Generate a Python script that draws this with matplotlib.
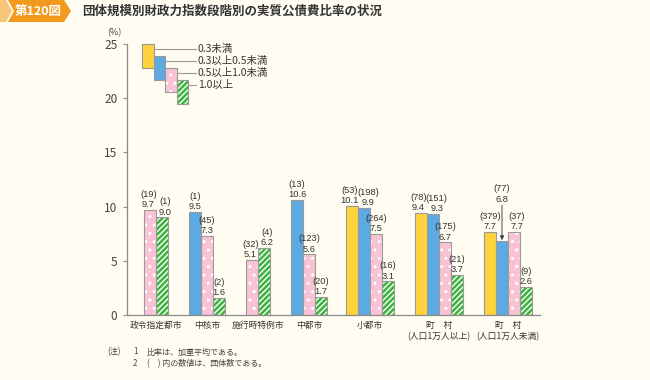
import matplotlib
matplotlib.use("Agg")
import matplotlib.pyplot as plt
from matplotlib.patches import Polygon, Rectangle
import numpy as np

plt.rcParams['font.family'] = ['Noto Sans CJK JP', 'DejaVu Sans']

# ---- data ----
categories = ["政令指定都市", "中核市", "施行時特例市", "中都市", "小都市",
              "町　村\n(人口1万人以上)", "町　村\n(人口1万人未満)"]
series_names = ["0.3未満", "0.3以上0.5未満", "0.5以上1.0未満", "1.0以上"]
v_lt03 = [None, None, None, None, 10.1, 9.4, 7.7]
v_03_05 = [None, 9.5, None, 10.6, 9.9, 9.3, 6.8]
v_05_10 = [9.7, 7.3, 5.1, 5.6, 7.5, 6.7, 7.7]
v_ge10 = [9.0, 1.6, 6.2, 1.7, 3.1, 3.7, 2.6]
n_lt03 = [None, None, None, None, 53, 78, 379]
n_03_05 = [None, 1, None, 13, 198, 151, 77]
n_05_10 = [19, 45, 32, 123, 264, 175, 37]
n_ge10 = [1, 2, 4, 20, 16, 21, 9]
yticks = [0, 5, 10, 15, 20, 25]

values = [v_lt03, v_03_05, v_05_10, v_ge10]
counts = [n_lt03, n_03_05, n_05_10, n_ge10]

# ---- style ----
BG = "#FFFDF1"
face = ["#FFD33D", "#5DA9E2", "#F9C3D5", "#3CB43C"]
hatches = [None, None, "..", "//////"]
EDGE = "#9A9A9A"
TXT = "#333333"
NUMFONT = ['Liberation Sans', 'DejaVu Sans']
NFS = 6.7

W, H = 650, 380
fig = plt.figure(figsize=(6.5, 3.8), dpi=100, facecolor=BG)

def fx(px):
    return px / W
def fy(py):
    return 1 - py / H

ax = fig.add_axes([fx(127), fy(315), fx(540) - fx(127), fy(44) - fy(315)])
ax.set_facecolor(BG)
ax.set_xlim(127, 540)
ax.set_ylim(0, 25)

group_centers = [156, 207, 258, 309, 370, 439, 508]
bw = 12

def draw_bar(x0, h, k, clip=True):
    ax.bar(x0, h, width=bw, align='edge', color=face[k], edgecolor='white' if hatches[k] else face[k],
           hatch=hatches[k], linewidth=0, zorder=2, clip_on=clip)
    ax.bar(x0, h, width=bw, align='edge', fill=False, edgecolor=EDGE, linewidth=0.8, zorder=3, clip_on=clip)

for g, c in enumerate(group_centers):
    present = [k for k in range(4) if values[k][g] is not None]
    start = c - bw * len(present) / 2
    # nudge labels apart when neighbouring bars have similar heights
    nudges = [0.0] * len(present)
    for i in range(1, len(present)):
        if abs(values[present[i]][g] - values[present[i - 1]][g]) < 1.5 and not (g == 6 and present[i] == 1):
            wide = len(str(counts[present[i]][g])) >= 3
            nudges[i - 1] -= 2.6 if wide else 1.8
            nudges[i] += 3.8 if wide else 2.8
    for i, k in enumerate(present):
        x0 = start + i * bw
        v = values[k][g]
        draw_bar(x0, v, k)
        xc = x0 + bw / 2 + nudges[i]
        if g == 6 and k == 1:
            xa = x0 + bw / 2
            ax.text(xa, 11.4, f"({counts[k][g]})", ha='center', va='baseline', fontsize=NFS, color=TXT, family=NUMFONT)
            ax.text(xa, 10.45, f"{v:.1f}", ha='center', va='baseline', fontsize=NFS, color=TXT, family=NUMFONT)
            ax.annotate("", xy=(xa, v + 0.1), xytext=(xa, 10.1),
                        arrowprops=dict(arrowstyle='-|>', color='#444444', lw=0.7,
                                        mutation_scale=6, shrinkA=0, shrinkB=0))
        else:
            ax.text(xc, v + 0.25, f"{v:.1f}", ha='center', va='baseline', fontsize=NFS, color=TXT, family=NUMFONT)
            ax.text(xc, v + 1.2, f"({counts[k][g]})", ha='center', va='baseline', fontsize=NFS, color=TXT, family=NUMFONT)

# axes styling
for s in ['top', 'right']:
    ax.spines[s].set_visible(False)
ax.spines['left'].set_color('#8A8A8A')
ax.spines['bottom'].set_color('#8A8A8A')
ax.spines['left'].set_linewidth(0.9)
ax.spines['bottom'].set_linewidth(0.9)
ax.set_yticks(yticks)
ax.set_yticklabels([str(t) for t in yticks], fontsize=8.5, color='#444444')
ax.tick_params(axis='y', length=3, width=0.8, color='#8A8A8A', pad=4)
ax.set_xticks(group_centers)
ax.set_xticklabels(categories, fontsize=6.3, color=TXT, linespacing=1.3)
ax.tick_params(axis='x', length=0, pad=4)
fig.text(fx(114), fy(33), "(%)", fontsize=6.5, color='#444444', ha='center', va='center')

# legend (staggered bars)
leg_top = [25.0, 23.9, 22.8, 21.7]
leg_len = 2.2
leg_x = [142, 153.5, 165, 176.5]
for k in range(4):
    y0 = leg_top[k] - leg_len
    ax.add_patch(Rectangle((leg_x[k], y0), 11.5, leg_len, facecolor=face[k],
                           edgecolor='white' if hatches[k] else face[k], hatch=hatches[k],
                           linewidth=0, zorder=4, clip_on=False))
    ax.add_patch(Rectangle((leg_x[k], y0), 11.5, leg_len, fill=False, edgecolor=EDGE,
                           linewidth=0.8, zorder=5, clip_on=False))
    ly = leg_top[k] - 0.45
    ax.plot([leg_x[k] + 11.5, 196], [ly, ly], color='#999999', lw=0.8, zorder=3, clip_on=False)
    ax.text(198, ly, series_names[k], fontsize=7.5, color=TXT, va='center', ha='left')

# title tag
fig.patches.append(Polygon([(fx(0), fy(0)), (fx(6), fy(0)), (fx(12), fy(11)), (fx(6), fy(22)), (fx(0), fy(22))],
                           closed=True, transform=fig.transFigure, facecolor='#F9C57A', edgecolor='none'))
fig.patches.append(Polygon([(fx(8), fy(0)), (fx(64), fy(0)), (fx(71), fy(11)), (fx(64), fy(22)), (fx(8), fy(22)), (fx(14), fy(11))],
                           closed=True, transform=fig.transFigure, facecolor='#F39A1E', edgecolor='none'))
fig.text(fx(38), fy(11.5), "第120図", fontsize=9, color='white', fontweight='bold', ha='center', va='center')
fig.text(fx(82), fy(11.5), "団体規模別財政力指数段階別の実質公債費比率の状況", fontsize=9,
         color='#333333', fontweight='bold', ha='left', va='center')

# notes
NS = 5.8
fig.text(fx(107), fy(352), "(注)", fontsize=NS, color='#444444', va='center')
fig.text(fx(133), fy(352), "1", fontsize=NS, color='#444444', va='center')
fig.text(fx(147), fy(352), "比率は、加重平均である。", fontsize=NS, color='#444444', va='center')
fig.text(fx(133), fy(364), "2", fontsize=NS, color='#444444', va='center')
fig.text(fx(147), fy(364), "(　) 内の数値は、団体数である。", fontsize=NS, color='#444444', va='center')

fig.savefig("out.png", dpi=100, facecolor=BG)
